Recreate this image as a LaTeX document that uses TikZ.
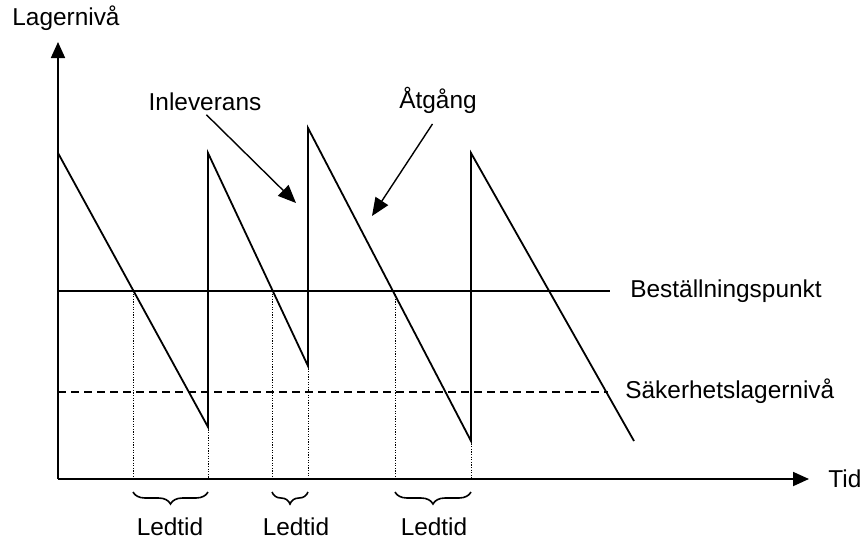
\documentclass[tikz,border=0pt]{standalone}
\usepackage{fontspec}
\setmainfont{Liberation Sans}
\usetikzlibrary{arrows.meta,decorations.pathreplacing}

\begin{document}
\begin{tikzpicture}[x=0.5pt, y=-0.5pt,
  axis/.style={line width=0.9pt, -{Triangle[length=8pt,width=7pt]}},
  stock/.style={line width=0.9pt},
  level/.style={line width=0.7pt},
  lead/.style={line width=0.5pt, dash pattern=on 0.6pt off 0.7pt},
  txt/.style={font=\fontsize{12.2}{14}\selectfont, inner sep=1pt},
  callout/.style={line width=0.7pt, -{Triangle[length=9pt,width=7.5pt]}},
  ledbrace/.style={line width=0.8pt, decorate, decoration={brace, mirror, amplitude=6pt}}]
\useasboundingbox (0,0) rectangle (864,542);
% axes
\coordinate (O) at (58,479);
\coordinate (ytop) at (58,42);
\coordinate (xend) at (809,479);
\draw[axis] (O) -- (ytop);
\draw[axis] (O) -- (xend);
\node[txt] (ylab) at (66,18) {Lagernivå};
\node[txt, anchor=west] (xlab) at (826,479) {Tid};
% order point and safety stock
\coordinate (bp0) at (58,291);
\coordinate (bp1) at (610,291);
\draw[level] (bp0) -- (bp1);
\node[txt, anchor=west] (bplab) at (628,291) {Beställningspunkt};
\coordinate (sl0) at (58,392);
\coordinate (sl1) at (608,392);
\draw[level, dash pattern=on 4pt off 2.5pt] (sl0) -- (sl1);
\node[txt, anchor=west] (sllab) at (623,391) {Säkerhetslagernivå};
% stock level
\foreach \x/\y [count=\i from 0] in {58/153, 208/427, 208/153, 308/366, 308/128, 471/441, 471/153, 634/441} {
  \coordinate (s\i) at (\x,\y);
}
\draw[stock] (s0) -- (s1) -- (s2) -- (s3) -- (s4) -- (s5) -- (s6) -- (s7);
% lead times
\foreach \a/\s/\m [count=\i] in {133/1/170, 272/3/296, 395/5/434} {
  \coordinate (r\i) at (\a,291);
  \coordinate (ba\i) at (\a,492);
  \coordinate (bb\i) at (s\s |- ba\i);
  \draw[lead] (r\i) -- (r\i |- O);
  \draw[lead] (s\s) -- (s\s |- O);
  \draw[ledbrace] (ba\i) -- (bb\i);
  \node[txt] (led\i) at (\m,527) {Ledtid};
}
% callouts
\node[txt] (inlev) at (205,102) {Inleverans};
\coordinate (inlpt) at (296,203);
\draw[callout, shorten <=1pt] (inlev.south) -- (inlpt);
\node[txt] (atg) at (438,100) {Åtgång};
\coordinate (atgpt) at (372,216);
\draw[callout, shorten <=5pt] (atg.south) -- (atgpt);
\end{tikzpicture}
\end{document}
